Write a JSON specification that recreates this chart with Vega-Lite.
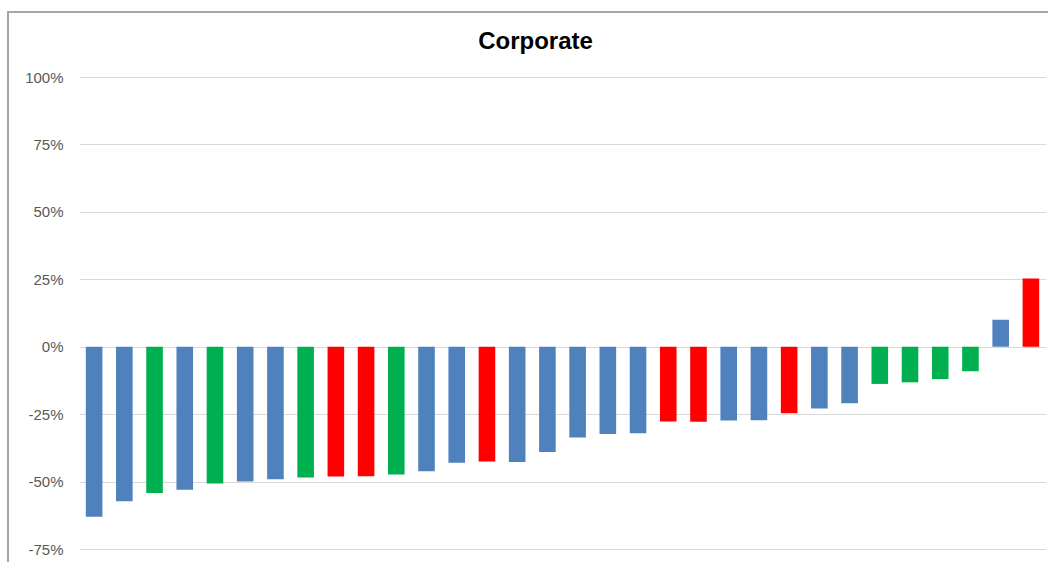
{
  "$schema": "https://vega.github.io/schema/vega-lite/v6.json",
  "autosize": "none",
  "width": 967,
  "height": 472,
  "padding": {"left": 79, "top": 77, "right": 2, "bottom": 13},
  "background": "white",
  "title": {
    "text": "Corporate",
    "font": "Liberation Sans",
    "fontSize": 24,
    "fontWeight": "bold",
    "color": "#000000",
    "anchor": "middle",
    "frame": "group",
    "baseline": "alphabetic",
    "dx": -27,
    "offset": -61.7
  },
  "config": {
    "view": {"stroke": null},
    "axis": {"labelFont": "Liberation Sans"}
  },
  "data": {
    "values": [
      {"rank": 1, "group": "A", "change": -63.0},
      {"rank": 2, "group": "A", "change": -57.3},
      {"rank": 3, "group": "B", "change": -54.2},
      {"rank": 4, "group": "A", "change": -53.0},
      {"rank": 5, "group": "B", "change": -50.7},
      {"rank": 6, "group": "A", "change": -50.0},
      {"rank": 7, "group": "A", "change": -49.1},
      {"rank": 8, "group": "B", "change": -48.5},
      {"rank": 9, "group": "C", "change": -48.1},
      {"rank": 10, "group": "C", "change": -48.0},
      {"rank": 11, "group": "B", "change": -47.4},
      {"rank": 12, "group": "A", "change": -46.2},
      {"rank": 13, "group": "A", "change": -43.0},
      {"rank": 14, "group": "C", "change": -42.6},
      {"rank": 15, "group": "A", "change": -42.7},
      {"rank": 16, "group": "A", "change": -39.0},
      {"rank": 17, "group": "A", "change": -33.7},
      {"rank": 18, "group": "A", "change": -32.4},
      {"rank": 19, "group": "A", "change": -32.1},
      {"rank": 20, "group": "C", "change": -27.7},
      {"rank": 21, "group": "C", "change": -27.8},
      {"rank": 22, "group": "A", "change": -27.4},
      {"rank": 23, "group": "A", "change": -27.3},
      {"rank": 24, "group": "C", "change": -24.7},
      {"rank": 25, "group": "A", "change": -22.9},
      {"rank": 26, "group": "A", "change": -21.0},
      {"rank": 27, "group": "B", "change": -13.8},
      {"rank": 28, "group": "B", "change": -13.2},
      {"rank": 29, "group": "B", "change": -12.0},
      {"rank": 30, "group": "B", "change": -9.1},
      {"rank": 31, "group": "A", "change": 10.0},
      {"rank": 32, "group": "C", "change": 25.3}
    ]
  },
  "layer": [
    {
      "mark": {"type": "bar", "width": 16.6, "clip": false},
      "encoding": {
        "x": {
          "field": "rank",
          "type": "quantitative",
          "scale": {"domain": [0.5, 32.5], "nice": false, "zero": false, "padding": 0},
          "axis": null
        },
        "y": {
          "field": "change",
          "type": "quantitative",
          "scale": {"domain": [-75, 100], "nice": false, "zero": false},
          "axis": {
            "values": [-75, -50, -25, 0, 25, 50, 75, 100],
            "labelExpr": "datum.value + '%'",
            "labelFontSize": 15,
            "labelColor": "#595959",
            "labelPadding": 16,
            "ticks": false,
            "domain": false,
            "grid": true,
            "gridColor": "#d9d9d9",
            "gridWidth": 1.2,
            "title": null
          }
        },
        "color": {
          "field": "group",
          "type": "nominal",
          "scale": {"domain": ["A", "B", "C"], "range": ["#4F81BD", "#00B050", "#FF0000"]},
          "legend": null
        }
      }
    },
    {
      "mark": {"type": "rule", "color": "#a6a6a6", "strokeWidth": 1.5, "clip": false},
      "encoding": {
        "x": {"datum": -1.85, "type": "quantitative"},
        "y": {"datum": 124.2, "type": "quantitative"},
        "y2": {"datum": -80.5}
      }
    },
    {
      "mark": {"type": "rule", "color": "#a6a6a6", "strokeWidth": 1.5, "clip": false},
      "encoding": {
        "x": {"datum": -1.85, "type": "quantitative"},
        "x2": {"datum": 33.5},
        "y": {"datum": 124.2, "type": "quantitative"}
      }
    }
  ]
}
